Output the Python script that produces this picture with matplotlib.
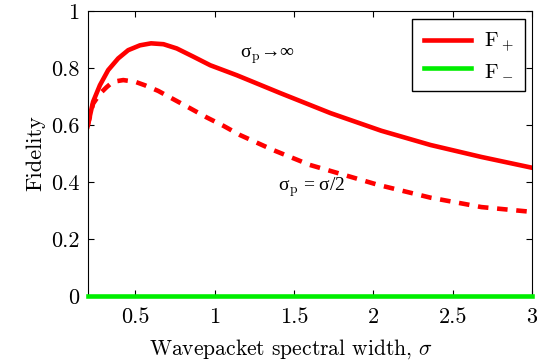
import numpy as np
import matplotlib
matplotlib.use("Agg")
import matplotlib.pyplot as plt

plt.rcParams["font.family"] = ["cmr10", "DejaVu Serif"]
plt.rcParams["mathtext.fontset"] = "cm"
plt.rcParams["axes.formatter.use_mathtext"] = True

# valores
sigma_inf = [0.2, 0.235, 0.278, 0.33, 0.393, 0.456, 0.53, 0.60, 0.678, 0.762, 0.867,
             0.973, 1.14, 1.415, 1.73, 2.05, 2.36, 2.68, 3.0]
f_inf = [0.595, 0.682, 0.74, 0.793, 0.834, 0.863, 0.88, 0.887, 0.884, 0.869, 0.84,
         0.81, 0.775, 0.712, 0.642, 0.58, 0.53, 0.488, 0.45]

sigma_half = [0.2, 0.235, 0.278, 0.32, 0.36, 0.425, 0.50, 0.56, 0.645, 0.75, 0.846,
              0.95, 1.057, 1.16, 1.37, 1.60, 1.84, 2.03, 2.36, 2.68, 3.0]
f_half = [0.595, 0.675, 0.71, 0.733, 0.752, 0.758, 0.752, 0.74, 0.72, 0.688, 0.659,
          0.627, 0.597, 0.565, 0.512, 0.46, 0.421, 0.39, 0.345, 0.312, 0.295]

sigma_minus = [0.2, 3.0]
f_minus = [0.0, 0.0]

fig = plt.figure(figsize=(5.37, 3.6), dpi=100)
ax = fig.add_axes([0.163, 0.178, 0.828, 0.791])

ax.plot(sigma_inf, f_inf, color="red", lw=3.3, label="F$_+$", solid_joinstyle="round")
ax.plot(sigma_minus, f_minus, color="#00ee00", lw=3.3, label="F$_-$", clip_on=False, zorder=3)
ax.plot(sigma_half, f_half, color="red", lw=3.3, dashes=(2.3, 1.9))

serif = ["Liberation Serif", "DejaVu Serif"]
ax.text(1.16, 0.846, "σ$_\\mathrm{p}$→∞", fontsize=14, va="center", family=serif)
ax.text(1.40, 0.38, "σ$_\\mathrm{p}$ = σ/2", fontsize=14, va="center", family=serif)

ax.set_xlim(0.2, 3)
ax.set_ylim(0, 1)
ax.set_xticks([0.5, 1, 1.5, 2, 2.5, 3])
ax.set_xticklabels(["0.5", "1", "1.5", "2", "2.5", "3"])
ax.set_yticks([0, 0.2, 0.4, 0.6, 0.8, 1])
ax.set_yticklabels(["0", "0.2", "0.4", "0.6", "0.8", "1"])
ax.tick_params(direction="in", top=True, right=True, labelsize=16, length=4)
ax.tick_params(axis="x", pad=8)
ax.tick_params(axis="y", pad=6)
ax.set_xlabel(r"Wavepacket spectral width, $\sigma$", fontsize=15.5)
ax.xaxis.set_label_coords(0.457, -0.145)
ax.set_ylabel("Fidelity", fontsize=16, labelpad=4)

leg = ax.legend(loc="upper right", fontsize=15, handlelength=2.3, fancybox=False,
                edgecolor="black", framealpha=1, borderpad=0.55, labelspacing=0.3,
                handletextpad=0.6, borderaxespad=0, bbox_to_anchor=(0.984, 0.972))
leg.get_frame().set_linewidth(1.0)

fig.savefig("out.png", dpi=100)
